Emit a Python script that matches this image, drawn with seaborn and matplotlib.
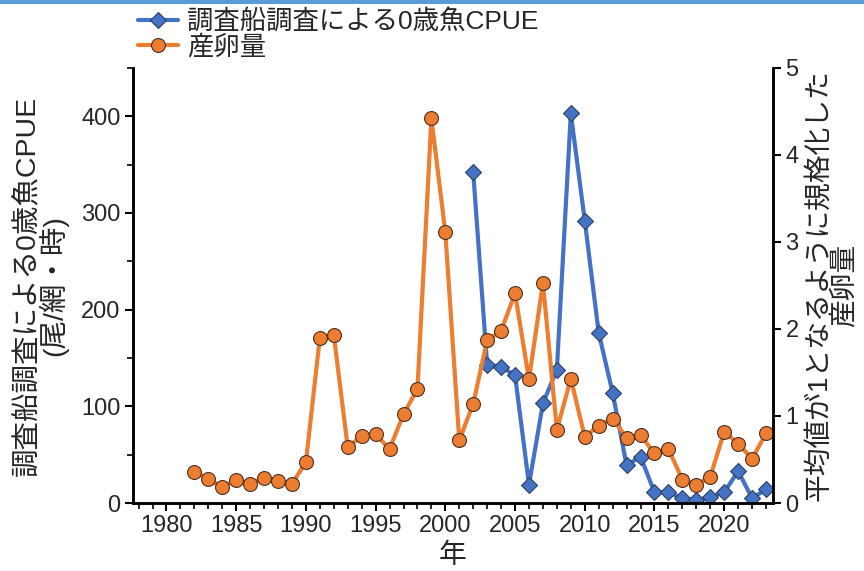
import numpy as np
import pandas as pd
import matplotlib
matplotlib.use("Agg")
import matplotlib.pyplot as plt
import seaborn as sns
from matplotlib.patches import Rectangle
from matplotlib.ticker import MultipleLocator

# 調査船調査による0歳魚CPUE (左軸)
cpue_years = list(range(2002, 2024))
cpue_vals = [342, 143, 141, 132, 19, 103, 138, 403, 292, 176, 114, 39, 48,
             11, 11, 5, 3, 6, 11, 33, 5, 14]

# 産卵量 (右軸, 平均値1に規格化)
egg_years = list(range(1982, 2024))
egg_vals = [0.36, 0.28, 0.18, 0.27, 0.22, 0.29, 0.25, 0.22, 0.47, 1.90,
            1.93, 0.64, 0.77, 0.79, 0.62, 1.02, 1.31, 4.42, 3.11, 0.72,
            1.14, 1.87, 1.98, 2.41, 1.42, 2.53, 0.84, 1.43, 0.76, 0.89,
            0.97, 0.75, 0.78, 0.57, 0.62, 0.27, 0.21, 0.30, 0.82, 0.68,
            0.51, 0.80]

cpue_df = pd.DataFrame({"年": cpue_years, "CPUE": cpue_vals})
egg_df = pd.DataFrame({"年": egg_years, "産卵量": egg_vals})

sns.set_style("ticks")
plt.rcParams['font.family'] = ['Liberation Sans', 'Noto Sans CJK JP', 'DejaVu Sans']

blue = "#4472C4"
orange = "#ED7D31"

fig = plt.figure(figsize=(8.64, 5.71), dpi=100)
ax = fig.add_axes([133/864, 1 - 503/571, 640/864, 435/571])
ax2 = ax.twinx()

sns.lineplot(data=cpue_df, x="年", y="CPUE", ax=ax, color=blue, linewidth=3,
             marker="D", markersize=8, markerfacecolor=blue,
             markeredgecolor="#2f3f5f", markeredgewidth=0.8,
             label="調査船調査による0歳魚CPUE", legend=False)
sns.lineplot(data=egg_df, x="年", y="産卵量", ax=ax2, color=orange, linewidth=3,
             marker="o", markersize=10, markerfacecolor=orange,
             markeredgecolor="#4a3020", markeredgewidth=0.8,
             label="産卵量", legend=False)

ax.set_xlim(1977.6, 2023.5)
ax.set_ylim(0, 450)
ax2.set_ylim(0, 5)

ax.xaxis.set_major_locator(MultipleLocator(5))
ax.xaxis.set_minor_locator(MultipleLocator(1))
ax.yaxis.set_major_locator(MultipleLocator(100))
ax.yaxis.set_minor_locator(MultipleLocator(50))
ax2.yaxis.set_major_locator(MultipleLocator(1))

ax.tick_params(axis="both", which="major", labelsize=17, length=6, width=1.5,
               direction="out", color="black", pad=3)
ax.tick_params(axis="both", which="minor", length=4, width=1.2, color="black")
ax2.tick_params(axis="y", which="major", labelsize=17, length=6, width=1.5,
                direction="out", color="black", pad=3)
ax.set_xticks(range(1980, 2021, 5))
ax.set_xticklabels([str(y) for y in range(1980, 2021, 5)])

for a in (ax, ax2):
    for side in ("left", "right", "bottom"):
        a.spines[side].set_linewidth(1.8)
        a.spines[side].set_color("black")
    a.spines["top"].set_visible(False)
    a.grid(False)

ax.set_xlabel("年", fontsize=20, labelpad=4)
ax.set_ylabel("調査船調査による0歳魚CPUE\n(尾/網・時)", fontsize=20.5,
              linespacing=0.9, labelpad=9)
ax2.set_ylabel("平均値が1となるように規格化した\n産卵量", fontsize=20,
               linespacing=0.9, rotation=90, labelpad=6)

h1, l1 = ax.get_legend_handles_labels()
h2, l2 = ax2.get_legend_handles_labels()
fig.legend(h1 + h2, l1 + l2, loc="upper left",
           bbox_to_anchor=(138/864, 1 - 9/571), frameon=False, fontsize=19,
           handlelength=1.5, handletextpad=0.35, labelspacing=0.02,
           borderpad=0, borderaxespad=0)

fig.patches.append(Rectangle((0, 1 - 4/571), 1, 4/571, transform=fig.transFigure,
                             facecolor="#5B9BD5", edgecolor="none"))

fig.savefig("out.png", dpi=100)
